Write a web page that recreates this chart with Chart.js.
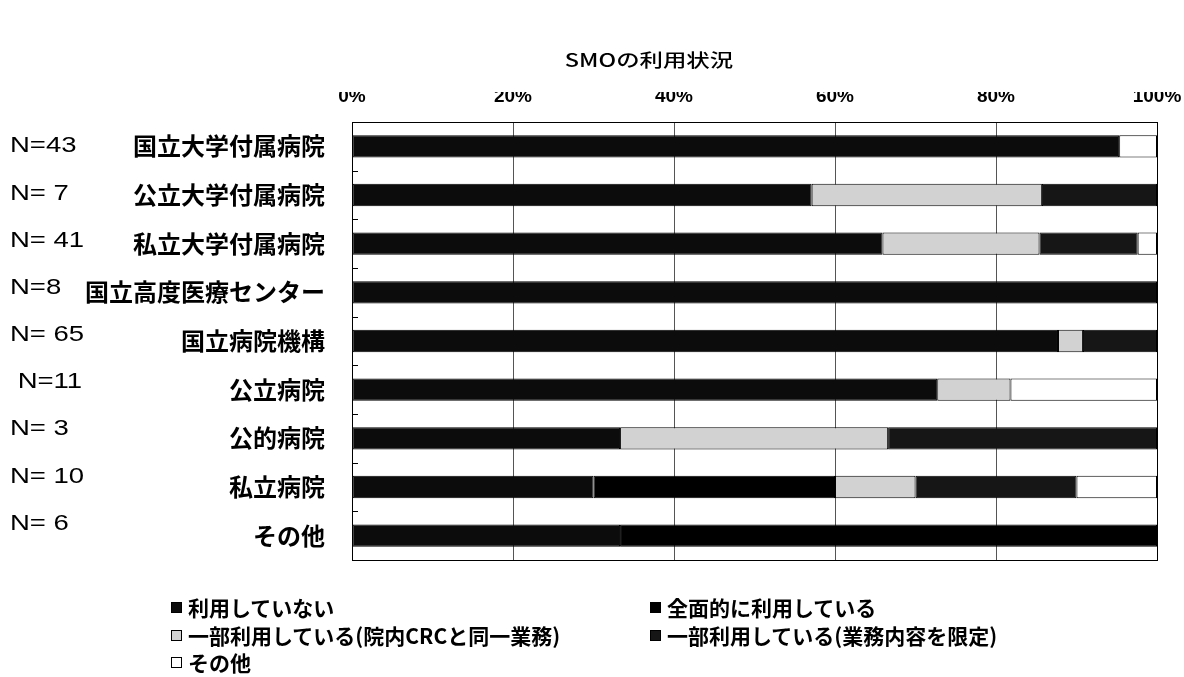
<!DOCTYPE html>
<html>
<head>
<meta charset="utf-8">
<script src="https://cdn.jsdelivr.net/npm/chart.js@4.4.1/dist/chart.umd.min.js"></script>
<style>
  body { margin: 0; background: #fff; }
  #wrap { position: relative; width: 1184px; height: 677px; }
  #chart { position: absolute; left: 0; top: 0; }
  .lg { position: absolute; display: flex; align-items: center; white-space: nowrap;
        font: bold 21px 'Noto Sans CJK JP', sans-serif; color: #000; }
  .sw { width: 11px; height: 11px; border: 1px solid #000; box-sizing: border-box; margin-right: 6px; }
</style>
</head>
<body>
<div id="wrap">
  <canvas id="chart" width="1184" height="677"></canvas>
</div>
<script>
const categories = ['国立大学付属病院', '公立大学付属病院', '私立大学付属病院', '国立高度医療センター',
  '国立病院機構', '公立病院', '公的病院', '私立病院', 'その他'];
const nLabels = ['N=43', 'N= 7', 'N= 41', 'N=8', 'N= 65', ' N=11', 'N= 3', 'N= 10', 'N= 6'];
const tickLabels = ['0%', '20%', '40%', '60%', '80%', '100%'];

const seriesNames = ['利用していない', '全面的に利用している', '一部利用している(院内CRCと同一業務)',
  '一部利用している(業務内容を限定)', 'その他'];
const notUsing       = [95.3, 57.1, 65.9, 100, 87.7, 72.7, 33.3, 30, 33.3];
const fullUse        = [0, 0, 0, 0, 0, 0, 0, 30, 66.7];
const partialSame    = [0, 28.6, 19.5, 0, 3.1, 9.1, 33.3, 10, 0];
const partialLimited = [0, 14.3, 12.2, 0, 9.2, 0, 33.4, 20, 0];
const otherUse       = [4.7, 0, 2.4, 0, 0, 18.2, 0, 10, 0];

const seriesData = [notUsing, fullUse, partialSame, partialLimited, otherUse];
const seriesColors = ['#0c0c0c', '#000000', '#d2d2d2', '#161616', '#ffffff'];

const FONT = "'Noto Sans CJK JP', sans-serif";

// legend under the plot, two columns
const legendPos = [[171, 607], [650, 607], [171, 635], [650, 635], [171, 662]];
seriesNames.forEach((name, i) => {
  const d = document.createElement('div');
  d.className = 'lg';
  d.style.left = legendPos[i][0] + 'px';
  d.style.top = (legendPos[i][1] - 15) + 'px';
  d.innerHTML = `<span class="sw" style="background:${seriesColors[i]}"></span><span>${name}</span>`;
  document.getElementById('wrap').appendChild(d);
});

const extras = {
  id: 'extras',
  afterDraw(chart) {
    const c = chart.ctx;
    const a = chart.chartArea;
    const ys = chart.scales.y;
    c.save();
    // frame
    c.strokeStyle = '#000';
    c.lineWidth = 1;
    c.strokeRect(a.left + 0.5, a.top + 0.5, a.right - a.left, a.bottom - a.top);
    // small marks between categories
    for (let i = 1; i < categories.length; i++) {
      const y = Math.round((ys.getPixelForValue(i - 1) + ys.getPixelForValue(i)) / 2) + 0.5;
      c.beginPath();
      c.moveTo(a.left, y);
      c.lineTo(a.left + 6, y);
      c.stroke();
    }
    // title
    c.fillStyle = '#000';
    c.textBaseline = 'middle';
    c.textAlign = 'center';
    c.font = '500 18px ' + FONT;
    c.save();
    c.translate(649, 60);
    c.scale(1.3, 1);
    c.fillText('SMOの利用状況', 0, 0);
    c.restore();
    // N= labels
    c.textAlign = 'left';
    c.font = "22px 'Liberation Sans', Arial, sans-serif";
    nLabels.forEach((t, i) => {
      c.save();
      c.translate(10, ys.getPixelForValue(i) - i * 1.5);
      c.scale(1.25, 1);
      c.fillText(t, 0, 0);
      c.restore();
    });
    c.restore();
  }
};

new Chart(document.getElementById('chart'), {
  type: 'bar',
  data: {
    labels: categories,
    datasets: seriesNames.map((name, i) => ({
      label: name,
      data: seriesData[i],
      backgroundColor: seriesColors[i],
      borderColor: '#000',
      borderWidth: ctx => (ctx.raw ? 1 : 0),
      borderSkipped: false,
      barPercentage: 0.46,
      categoryPercentage: 1
    }))
  },
  options: {
    indexAxis: 'y',
    responsive: false,
    animation: false,
    layout: { padding: { top: 92, right: 27, bottom: 117, left: 0 } },
    plugins: { legend: { display: false }, tooltip: { enabled: false } },
    scales: {
      x: {
        position: 'top',
        stacked: true,
        min: 0,
        max: 100,
        ticks: {
          stepSize: 20,
          padding: 14,
          maxRotation: 0,
          color: '#000',
          font: { family: "'Liberation Sans', Arial, sans-serif", size: 19, weight: 'bold' },
          callback: (v, i) => tickLabels[i]
        },
        grid: { color: '#555', drawTicks: false },
        border: { color: '#000' },
        afterFit: s => { s.height = 30; s.paddingLeft = 0; s.paddingRight = 0; }
      },
      y: {
        stacked: true,
        ticks: {
          padding: 19,
          color: '#000',
          font: { family: FONT, size: 24, weight: 'bold' }
        },
        grid: { display: false },
        border: { color: '#000' },
        afterFit: s => { s.width = 352; }
      }
    }
  },
  plugins: [extras]
});
</script>
</body>
</html>
